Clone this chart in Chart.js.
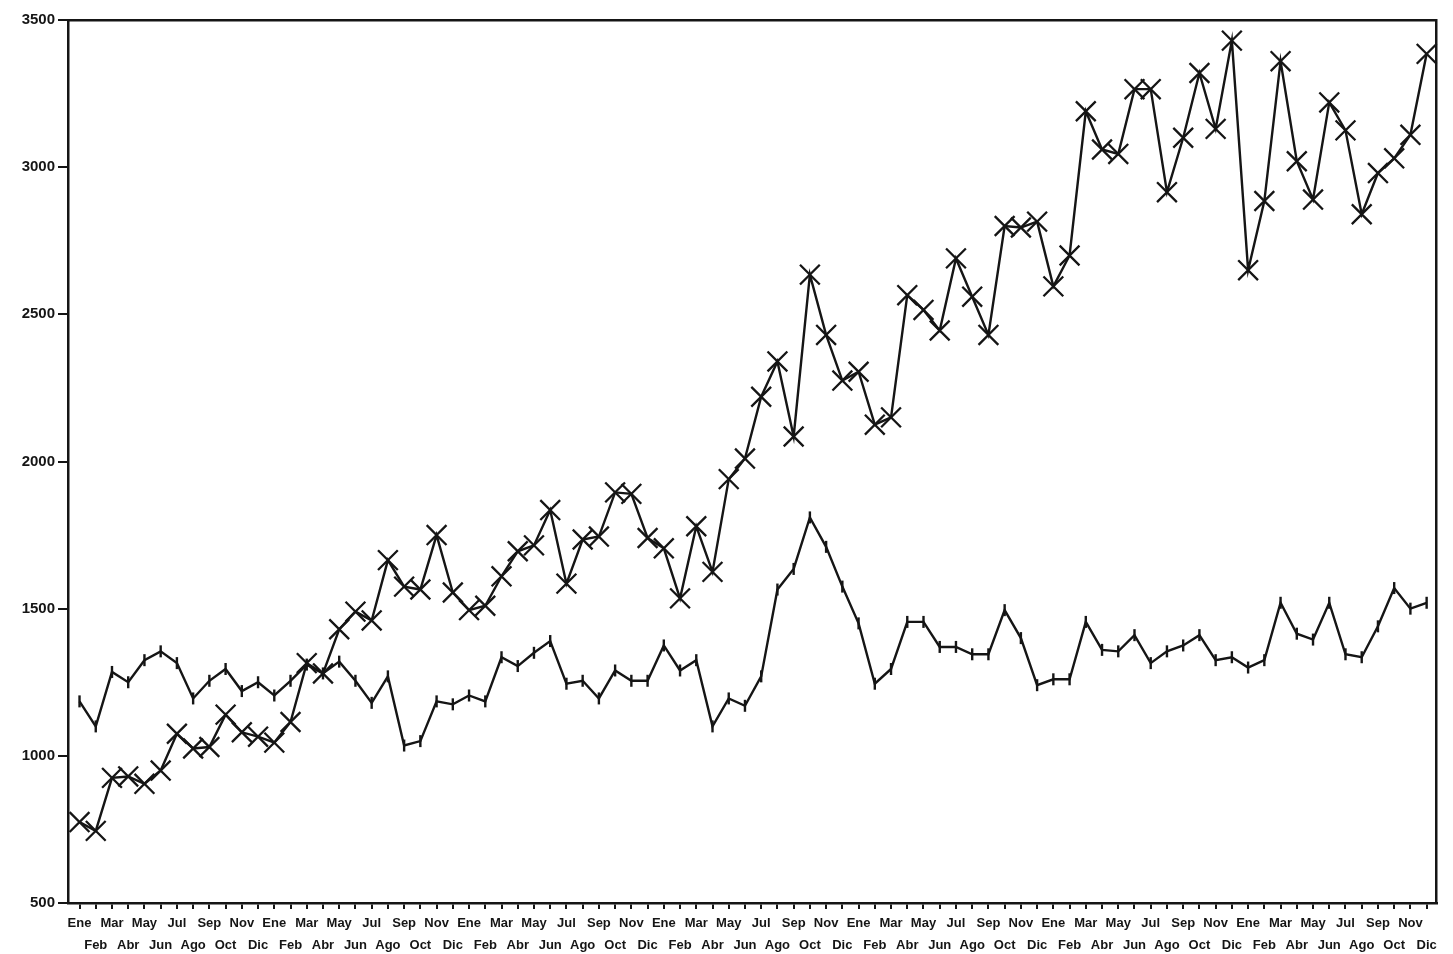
<!DOCTYPE html>
<html>
<head>
<meta charset="utf-8">
<script src="https://cdn.jsdelivr.net/npm/chart.js@4"></script>
<style>
  html, body { margin: 0; padding: 0; background: #fff; }
</style>
</head>
<body>
<canvas id="chart" width="1453" height="954"></canvas>
<script>
// month names for the axis, repeated for each of the seven years
const meses = ["Ene", "Feb", "Mar", "Abr", "May", "Jun", "Jul", "Ago", "Sep", "Oct", "Nov", "Dic"];
const anios = 7;

// series drawn with X markers (rising one)
const serieCruces = [
  775, 745, 925, 930, 905, 950, 1075, 1025, 1030, 1140, 1080, 1065,
  1045, 1115, 1315, 1280, 1430, 1490, 1460, 1665, 1575, 1565, 1750, 1555,
  1495, 1510, 1610, 1695, 1715, 1835, 1585, 1735, 1745, 1895, 1890, 1740,
  1705, 1535, 1780, 1625, 1940, 2010, 2220, 2340, 2085, 2635, 2430, 2275,
  2305, 2125, 2150, 2565, 2515, 2445, 2690, 2560, 2430, 2800, 2795, 2815,
  2595, 2700, 3190, 3060, 3045, 3265, 3265, 2915, 3100, 3320, 3130, 3430,
  2650, 2885, 3360, 3020, 2890, 3220, 3125, 2840, 2980, 3030, 3110, 3385
];

// series drawn with small vertical ticks (flatter one)
const serieTrazos = [
  1185, 1100, 1285, 1250, 1325, 1355, 1315, 1195, 1255, 1295, 1220, 1250,
  1205, 1255, 1310, 1280, 1320, 1255, 1180, 1270, 1035, 1050, 1185, 1175,
  1205, 1185, 1335, 1305, 1350, 1390, 1245, 1255, 1195, 1290, 1255, 1255,
  1375, 1290, 1325, 1100, 1195, 1170, 1270, 1565, 1635, 1810, 1710, 1575,
  1450, 1245, 1295, 1455, 1455, 1370, 1370, 1345, 1345, 1495, 1400, 1240,
  1260, 1260, 1455, 1360, 1355, 1410, 1315, 1355, 1375, 1410, 1325, 1335,
  1300, 1325, 1520, 1415, 1395, 1520, 1345, 1335, 1440, 1570, 1500, 1520
];

const yTicks = [500, 1000, 1500, 2000, 2500, 3000, 3500];

const etiquetas = [];
for (let a = 0; a < anios; a++) etiquetas.push(...meses);

const ink = "#151515";
const xMin = -0.71;
const xMax = etiquetas.length - 1 + 0.62;

const toPoints = (values) => values.map((v, i) => ({ x: i, y: v }));

// plain frame axes for the top and right edges
const frameAxis = (position, min, max) => ({
  type: "linear",
  position,
  min,
  max,
  grid: { display: false, drawTicks: false },
  ticks: { display: false },
  border: { color: ink, width: 2.5 }
});

const ctx = document.getElementById("chart").getContext("2d");
new Chart(ctx, {
  type: "line",
  data: {
    datasets: [
      {
        data: toPoints(serieCruces),
        borderColor: ink,
        borderWidth: 2.4,
        tension: 0,
        clip: false,
        pointStyle: "crossRot",
        pointRadius: 14,
        pointBorderWidth: 2.3,
        pointBorderColor: ink,
        pointBackgroundColor: ink
      },
      {
        data: toPoints(serieTrazos),
        borderColor: ink,
        borderWidth: 2.4,
        tension: 0,
        clip: false,
        pointStyle: "line",
        pointRotation: 90,
        pointRadius: 6,
        pointBorderWidth: 2.4,
        pointBorderColor: ink
      }
    ]
  },
  options: {
    responsive: false,
    animation: false,
    devicePixelRatio: 1,
    layout: { padding: { top: 20, right: 16, left: 0, bottom: 0 } },
    plugins: {
      legend: { display: false },
      tooltip: { enabled: false }
    },
    scales: {
      x: {
        type: "linear",
        position: "bottom",
        min: xMin,
        max: xMax,
        afterBuildTicks: (axis) => {
          axis.ticks = etiquetas.map((_, i) => ({ value: i }));
        },
        afterFit: (scale) => { scale.height = 51; },
        grid: { drawOnChartArea: false, tickLength: 6, color: ink, lineWidth: 2 },
        border: { color: ink, width: 2.5 },
        ticks: {
          autoSkip: false,
          maxRotation: 0,
          minRotation: 0,
          padding: 3,
          color: ink,
          font: { family: "Liberation Sans", size: 13, weight: "bold", lineHeight: 1.69 },
          // odd months on the first row, even months on the second
          callback: (v) => (v % 2 === 0 ? etiquetas[v] : ["", etiquetas[v]])
        }
      },
      xTop: frameAxis("top", xMin, xMax),
      y: {
        min: 500,
        max: 3500,
        afterBuildTicks: (axis) => {
          axis.ticks = yTicks.map((v) => ({ value: v }));
        },
        afterFit: (scale) => { scale.width = 68; },
        grid: { drawOnChartArea: false, tickLength: 10, color: ink, lineWidth: 2 },
        border: { color: ink, width: 2.5 },
        ticks: {
          padding: 3,
          color: ink,
          font: { family: "Liberation Sans", size: 15, weight: "bold" },
          callback: (v) => String(v)
        }
      },
      yRight: frameAxis("right", 500, 3500)
    }
  }
});
</script>
</body>
</html>
